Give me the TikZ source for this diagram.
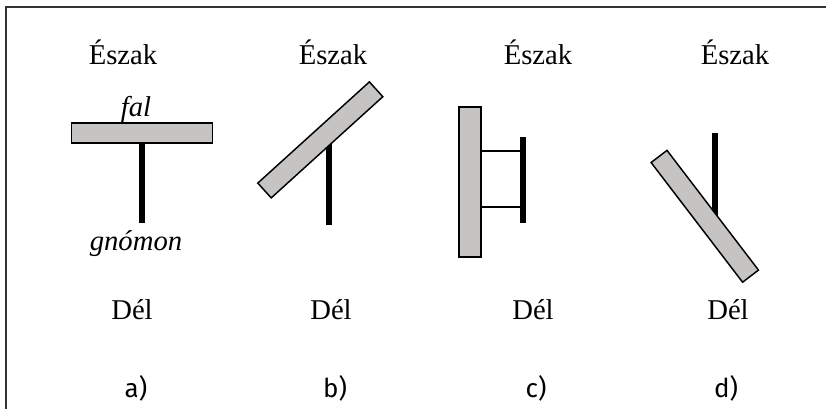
\documentclass[tikz,border=0pt]{standalone}
\usepackage{fontspec}
\setmainfont{Liberation Serif}
\newfontfamily\labfont{Fira Sans}
\tikzset{
  wall/.style={draw=black, line width=1.1pt, fill=wallgray, inner sep=0pt, minimum height=15pt},
  gnom/.style={line width=5.2pt},
  arm/.style={line width=1.1pt},
  dir/.style={anchor=base, font=\fontsize{21.5}{24}\selectfont},
  panellabel/.style={anchor=base, font=\labfont\fontsize{19.5}{22}\selectfont}
}
\definecolor{wallgray}{RGB}{198,195,195}
\begin{document}
\begin{tikzpicture}[x=0.75pt, y=-0.75pt]
  \useasboundingbox (0,0) rectangle (826,409);
  \draw[black!80, line width=1.5pt] (5.5,409) -- (5.5,7.5) -- (826,7.5);
  % a)
  \node[dir] (na) at (123,65) {Észak};
  \coordinate (ga) at (142,223);
  \node[wall, minimum width=105.75pt] (wa) at (142,133) {};
  \draw[gnom] (wa.south) -- (ga);
  \node[dir, font=\itshape\fontsize{21.5}{24}\selectfont] (fal) at (136,116.5) {fal};
  \node[dir, font=\itshape\fontsize{21.5}{24}\selectfont] (gn) at (136,251) {gnómon};
  \node[dir] (sa) at (132,320) {Dél};
  \node[panellabel] (la) at (136,398) {a)};
  % b)
  \node[dir] (nb) at (333,65) {Észak};
  \coordinate (gbt) at (329,130);
  \coordinate (gbb) at (329,225);
  \draw[gnom] (gbt) -- (gbb);
  \node[wall, minimum width=113pt, rotate=42.2] (wb) at (320.3,139.9) {};
  \node[dir] (sb) at (331,320) {Dél};
  \node[panellabel] (lb) at (335,398) {b)};
  % c)
  \node[dir] (nc) at (538,65) {Észak};
  \node[wall, minimum width=16.5pt, minimum height=112.5pt] (wc) at (470,182) {};
  \coordinate (gct) at (523,137);
  \coordinate (gcb) at (523,223);
  \draw[arm] (wc.east |- 0,151) -- (gct |- 0,151);
  \draw[arm] (wc.east |- 0,207) -- (gct |- 0,207);
  \draw[gnom] (gct) -- (gcb);
  \node[dir] (sc) at (533,320) {Dél};
  \node[panellabel] (lc) at (536,398) {c)};
  % d)
  \node[dir] (nd) at (735,65) {Észak};
  \coordinate (gdt) at (715,133);
  \coordinate (gdb) at (715,230);
  \draw[gnom] (gdt) -- (gdb);
  \node[wall, minimum width=113pt, rotate=-52.6] (wd) at (704.8,216.3) {};
  \node[dir] (sd) at (728,320) {Dél};
  \node[panellabel] (ld) at (726,398) {d)};
\end{tikzpicture}
\end{document}
